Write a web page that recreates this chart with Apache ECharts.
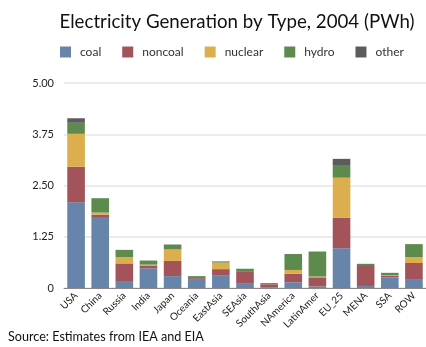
<!DOCTYPE html>
<html>
<head>
<meta charset="utf-8">
<script src="https://cdn.jsdelivr.net/npm/echarts@6/dist/echarts.min.js"></script>
<style>
  html, body { margin: 0; padding: 0; background: #fff; }
  #chart { width: 426px; height: 347px; }
</style>
</head>
<body>
<div id="chart"></div>
<script>
// Electricity generation by region and source, 2004 (PWh)
const regions = ['USA', 'China', 'Russia', 'India', 'Japan', 'Oceania', 'EastAsia', 'SEAsia',
  'SouthAsia', 'NAmerica', 'LatinAmer', 'EU_25', 'MENA', 'SSA', 'ROW'];
const coal    = [2.09, 1.71, 0.15, 0.48, 0.29, 0.20, 0.30, 0.12, 0.02, 0.14, 0.04, 0.97, 0.05, 0.26, 0.20];
const noncoal = [0.87, 0.08, 0.45, 0.07, 0.37, 0.04, 0.16, 0.29, 0.07, 0.21, 0.22, 0.74, 0.51, 0.04, 0.41];
const nuclear = [0.80, 0.05, 0.15, 0.02, 0.28, 0.00, 0.16, 0.00, 0.00, 0.09, 0.02, 0.98, 0.00, 0.01, 0.14];
const hydro   = [0.27, 0.35, 0.18, 0.10, 0.11, 0.05, 0.03, 0.06, 0.03, 0.39, 0.61, 0.31, 0.03, 0.06, 0.32];
const other   = [0.11, 0.00, 0.00, 0.00, 0.01, 0.00, 0.00, 0.00, 0.00, 0.00, 0.00, 0.15, 0.00, 0.00, 0.00];
const yTicks  = [0, 1.25, 2.5, 3.75, 5];

const seriesDefs = [
  { name: 'coal', data: coal, color: '#6784ab' },
  { name: 'noncoal', data: noncoal, color: '#a3545b' },
  { name: 'nuclear', data: nuclear, color: '#dcae4e' },
  { name: 'hydro', data: hydro, color: '#5d8b4e' },
  { name: 'other', data: other, color: '#5c5c5c' }
];

const font = 'Lato, "Open Sans", sans-serif';
const chart = echarts.init(document.getElementById('chart'), null, { renderer: 'canvas' });

chart.setOption({
  animation: false,
  backgroundColor: '#fff',
  textStyle: { fontFamily: font },
  title: [{
    text: 'Electricity Generation by Type, 2004 (PWh)',
    left: 232, top: 7, textAlign: 'center',
    textStyle: { fontFamily: font, fontSize: 18.7, fontWeight: 'normal', color: '#111' }
  }, {
    text: 'Source: Estimates from IEA and EIA',
    left: 3, top: 325,
    textStyle: { fontFamily: font, fontSize: 12.6, fontWeight: 'normal', color: '#111' }
  }],
  legend: {
    top: 41, left: 55,
    itemWidth: 11, itemHeight: 11, itemGap: 21,
    icon: 'rect',
    textStyle: { fontFamily: font, fontSize: 12, color: '#333', padding: [0, 0, 0, 4] },
    data: seriesDefs.map(s => s.name)
  },
  grid: { left: 64, right: -2, top: 83, bottom: 59 },
  xAxis: {
    type: 'category',
    data: regions,
    axisLine: { lineStyle: { color: '#888', width: 1 } },
    axisTick: { show: false },
    axisLabel: { rotate: 45, fontSize: 10, color: '#222', margin: 6, interval: 0, fontFamily: font }
  },
  yAxis: {
    type: 'value',
    min: yTicks[0], max: yTicks[yTicks.length - 1], interval: yTicks[1] - yTicks[0],
    axisLine: { show: false },
    axisTick: { show: false },
    splitLine: { lineStyle: { color: '#e6e6e6', width: 1.5 } },
    axisLabel: {
      fontSize: 11, color: '#222', margin: 10, fontFamily: font,
      formatter: v => (v === 0 ? '0' : v.toFixed(2))
    }
  },
  series: seriesDefs.map(s => ({
    name: s.name,
    type: 'bar',
    stack: 'total',
    barCategoryGap: '27%',
    data: s.data,
    itemStyle: { color: s.color }
  }))
});
</script>
</body>
</html>
